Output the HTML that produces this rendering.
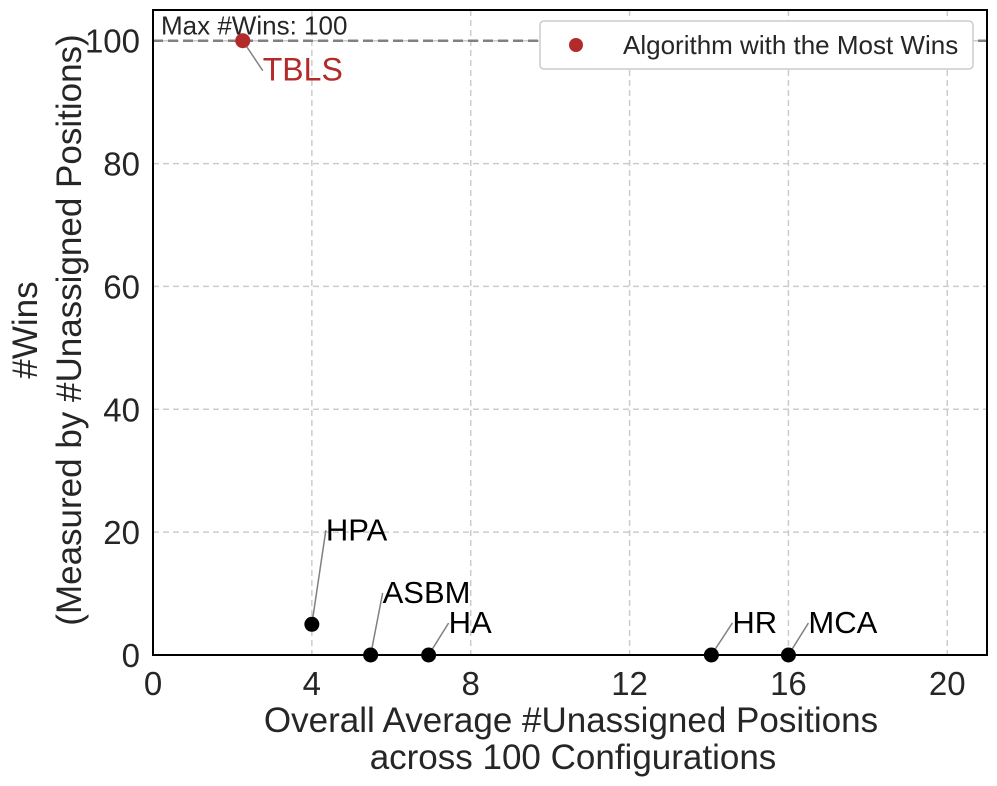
<!DOCTYPE html>
<html><head><meta charset="utf-8"><style>
body{margin:0;background:#fff;}
svg{display:block;font-family:"Liberation Sans",Arial,sans-serif;}
</style></head><body>
<svg id="chart" width="997" height="786">
<g id="grid"></g>
<g id="axes"></g>
<g id="marks"></g>
</svg>
<script>
const names=["TBLS","HPA","ASBM","HA","HR","MCA"];
const avgUnassigned=[2.26,4.0,5.48,6.94,14.06,16.0];
const wins=[100,5,0,0,0,0];
const labelDx=[20,14,12,20,21,20];
const labelDy=[40,-84,-52,-22,-22,-22];
const xTicks=[0,4,8,12,16,20];
const yTicks=[0,20,40,60,80,100];
const maxWins=100;
const L=153,R=987,T=10,B=655,X0=0,X1=21,Y0=0,Y1=105;
const sx=v=>L+(v-X0)/(X1-X0)*(R-L);
const sy=v=>B-(v-Y0)/(Y1-Y0)*(B-T);
const NS="http://www.w3.org/2000/svg";
function mk(tag,attrs,parent,text){const e=document.createElementNS(NS,tag);for(const k in attrs)e.setAttribute(k,attrs[k]);if(text!==undefined)e.textContent=text;parent.appendChild(e);return e;}
const grid=document.getElementById('grid'),axes=document.getElementById('axes'),marks=document.getElementById('marks');
xTicks.forEach(t=>{
 if(t>0){const g=mk('line',{x1:sx(t),x2:sx(t),y1:T,y2:B,stroke:'#cccccc','stroke-width':1.5,'stroke-dasharray':'6,4'},grid);
 }
 const l=mk('text',{x:sx(t),y:B+40,'font-size':33,'text-anchor':'middle',fill:'#262626'},axes,t);
 
});
yTicks.forEach(t=>{
 if(t>0){const g=mk('line',{x1:L,x2:R,y1:sy(t),y2:sy(t),stroke:'#cccccc','stroke-width':1.5,'stroke-dasharray':'6,4'},grid);
 }
 const l=mk('text',{x:L-13,y:sy(t)+12,'font-size':33,'text-anchor':'end',fill:'#262626'},axes,t);
 
});
const ml=mk('line',{x1:L,x2:R,y1:sy(maxWins),y2:sy(maxWins),stroke:'#808080','stroke-width':2.5,'stroke-dasharray':'10,5'},grid);

const mt=mk('text',{x:L+8,y:sy(maxWins)-6,'font-size':26,fill:'#262626'},grid,'Max #Wins: '+maxWins);

const fr=mk('rect',{x:L,y:T,width:R-L,height:B-T,fill:'none',stroke:'#000','stroke-width':2},axes);

const xt1=mk('text',{x:571,y:732,'font-size':35,'text-anchor':'middle',fill:'#262626'},axes,'Overall Average #Unassigned Positions');

const xt2=mk('text',{x:573,y:769,'font-size':35,'text-anchor':'middle',fill:'#262626'},axes,'across 100 Configurations');

const yt=mk('text',{transform:'translate(37,330) rotate(-90)','font-size':35,'text-anchor':'middle',fill:'#262626'},axes);

mk('tspan',{x:0,dy:0},yt,'#Wins');mk('tspan',{x:0,dy:44},yt,'(Measured by #Unassigned Positions)');
const maxI=wins.indexOf(Math.max(...wins));
names.forEach((n,i)=>{
 const px=sx(avgUnassigned[i]),py=sy(wins[i]);
 const best=i===maxI;
 const lx=px+labelDx[i], ly=py+labelDy[i];
 const ln=mk('line',{x1:px,y1:py,x2:lx,y2:best?ly-10:ly-10,stroke:'#808080','stroke-width':1.5},marks);
 
 const c=mk('circle',{cx:px,cy:py,r:7.5,fill:best?'#b22a2a':'#000'},marks);
 
 const t=mk('text',{x:lx,y:ly,'font-size':best?32:31,fill:best?'#b22a2a':'#000'},marks,n);
 
});
const lg=mk('g',{},axes);

mk('rect',{x:540,y:21,width:433,height:48,rx:4,fill:'#fff',stroke:'#cccccc','stroke-width':1.5},lg);
const lc=mk('circle',{cx:576,cy:45,r:7,fill:'#b22a2a'},lg);

const lt=mk('text',{x:623,y:54,'font-size':26,fill:'#262626'},lg,'Algorithm with the Most Wins');

</script>
</body></html>
